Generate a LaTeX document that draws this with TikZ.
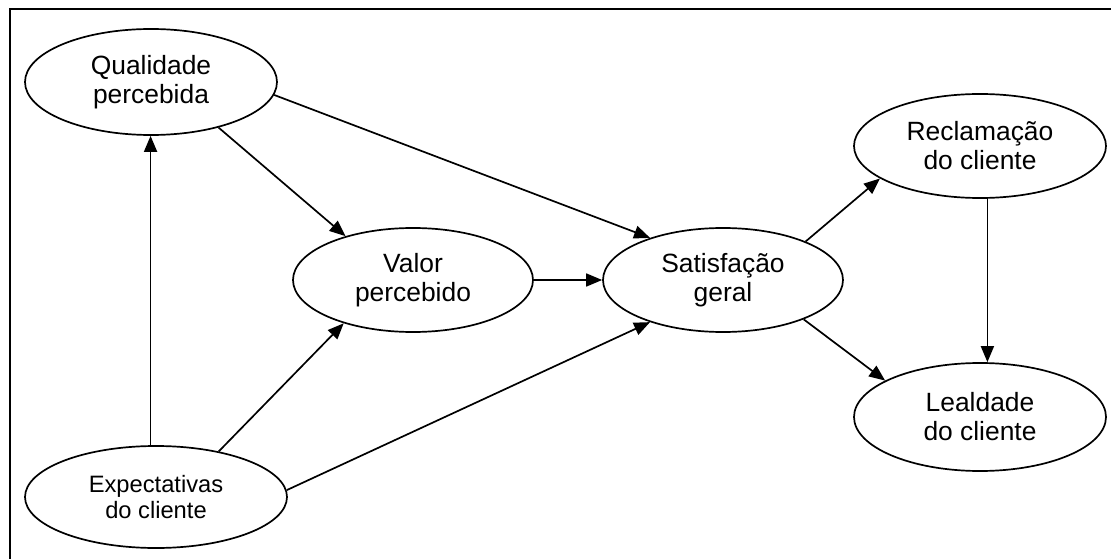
\documentclass[tikz,border=0pt]{standalone}
\usepackage{fontspec}
\setmainfont{Liberation Sans}
\usetikzlibrary{shapes.geometric,arrows.meta}
\begin{document}
\begin{tikzpicture}[x=1pt,y=-1pt,
  oval/.style={ellipse,draw,line width=1.7pt,inner sep=0pt,align=center,
    font=\fontsize{26.4}{29}\selectfont},
  arr/.style={line width=1.7pt,-{Triangle[length=16pt,width=13pt]}},
  frame/.style={line width=2pt}]
\useasboundingbox (0,0) rectangle (1111,559);
% open frame: top and left edges
\draw[frame] (1111,9.5) -- (9.5,9.5) -- (9.5,559);

\node[oval,minimum width=252pt,minimum height=106pt] (Q) at (151,82) {Qualidade\\percebida};
\node[oval,minimum width=262pt,minimum height=102pt,font=\fontsize{23.7}{26.7}\selectfont] (E) at (156,497) {Expectativas\\do cliente};
\node[oval,minimum width=240pt,minimum height=104pt] (V) at (413,280) {Valor\\percebido};
\node[oval,minimum width=240pt,minimum height=104pt] (S) at (723,280) {Satisfação\\geral};
\node[oval,minimum width=252pt,minimum height=104pt] (R) at (980,146) {Reclamação\\do cliente};
\node[oval,minimum width=252pt,minimum height=108pt] (L) at (980,417) {Lealdade\\do cliente};

\draw[arr] (E.96.7) -- (E.96.7 |- Q.south);
\draw[arr] (Q.-34.8) -- (V.147.9);
\draw[arr] (Q.-6.8) -- (S.150.3);
\draw[arr] (E.36.6) -- (V.212.1);
\draw[arr] (E.3) -- (S.210.3);
\draw[arr] (V.east) -- (S.west);
\draw[arr] (S.25.7) -- (R.198.3);
\draw[arr] (S.-26.8) -- (L.159.2);
\draw[arr] (R.-82.3) -- (R.-82.3 |- L.north);
\end{tikzpicture}
\end{document}
